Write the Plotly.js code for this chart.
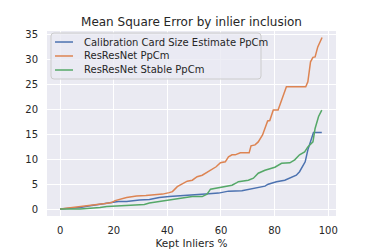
<!DOCTYPE html>
<html>
<head>
<meta charset="utf-8">
<script src="https://cdn.plot.ly/plotly-3.0.1.min.js"></script>
<style>html,body{margin:0;padding:0;background:#fff;}#chart{width:374px;height:249px;}</style>
</head>
<body>
<div id="chart"></div>
<script>
const seriesNames = ["Calibration Card Size Estimate PpCm", "ResResNet PpCm", "ResResNet Stable PpCm"];

const blueX = [0, 5, 7.5, 10.6, 14.9, 19.2, 21.7, 24.8, 27.2, 29.6, 33.3, 37, 40.7, 44.4, 48.1, 54.2, 59.1, 62.8, 67.8, 72.7, 76.4, 77.6, 80.7, 83.8, 86.2, 88.1, 89.3, 91.4, 92.4, 93.6, 94.5, 97.6];
const blueY = [0, 0.1, 0.3, 0.6, 1.0, 1.3, 1.5, 1.5, 1.7, 1.8, 1.9, 2.3, 2.5, 2.6, 2.8, 3.0, 3.2, 3.6, 3.7, 4.2, 4.6, 5.0, 5.5, 5.8, 6.3, 6.8, 7.5, 9.5, 11.9, 13.9, 15.4, 15.4];

const orangeX = [0, 5, 7.5, 13.7, 16.8, 19.2, 20.5, 24.8, 28.5, 32, 35, 38.2, 40.7, 41.9, 43.7, 45.6, 47.4, 49.3, 51.1, 53, 56.1, 58.2, 59.8, 61.6, 62.8, 64.1, 65.3, 67.2, 70.5, 71.2, 72.7, 73.9, 75.5, 77.4, 78.2, 79.5, 81.3, 84.4, 91.6, 92.4, 93.4, 94.3, 95.1, 96.1, 97.7];
const orangeY = [0, 0.3, 0.5, 0.8, 1.1, 1.3, 1.7, 2.3, 2.6, 2.7, 2.8, 3.0, 3.3, 3.5, 4.5, 5.0, 5.6, 5.8, 6.5, 6.8, 7.8, 8.5, 9.3, 9.5, 10.5, 10.9, 10.9, 11.3, 11.3, 12.7, 12.9, 13.5, 14.9, 17.7, 17.8, 19.9, 19.9, 24.6, 24.6, 25.6, 29.6, 30.5, 30.6, 32.6, 34.5];

const greenX = [0, 7.5, 14.9, 17.4, 21.1, 26, 29.6, 31.4, 33.3, 37, 41.9, 45.6, 49.3, 53, 54.8, 56.1, 58.5, 61.6, 64.1, 65.9, 66.5, 70.2, 72.1, 73.9, 76.4, 80.1, 82.6, 85.7, 87.5, 89.3, 91.2, 92.4, 94.3, 95.1, 96.4, 97.6];
const greenY = [0, 0, 0.3, 0.5, 0.6, 0.8, 0.8, 0.9, 1.2, 1.5, 1.8, 2.1, 2.5, 2.5, 3.0, 4.0, 4.2, 4.6, 4.8, 5.3, 5.5, 5.8, 6.2, 7.2, 7.8, 8.4, 9.2, 9.3, 9.9, 10.9, 11.5, 12.5, 13.5, 16.2, 18.6, 19.9];

const xTicks = [0, 20, 40, 60, 80, 100];
const yTicks = [0, 5, 10, 15, 20, 25, 30, 35];

const colors = ["#4C72B0", "#DD8452", "#55A868"];
const xs = [blueX, orangeX, greenX];
const ys = [blueY, orangeY, greenY];

const traces = seriesNames.map((n, i) => ({
  x: xs[i], y: ys[i], name: n, type: "scatter", mode: "lines",
  line: {color: colors[i], width: 1.5}
}));

const font = {family: "DejaVu Sans", color: "#262626"};

// legend drawn in paper coordinates (matplotlib-style compact legend)
const lg = {x0: 0.0138, x1: 0.7405, y0: 0.7405, y1: 0.989, rx: 0.0104, ry: 0.0162};
const boxPath = `M ${lg.x0+lg.rx},${lg.y1} L ${lg.x1-lg.rx},${lg.y1} Q ${lg.x1},${lg.y1} ${lg.x1},${lg.y1-lg.ry} ` +
  `L ${lg.x1},${lg.y0+lg.ry} Q ${lg.x1},${lg.y0} ${lg.x1-lg.rx},${lg.y0} L ${lg.x0+lg.rx},${lg.y0} ` +
  `Q ${lg.x0},${lg.y0} ${lg.x0},${lg.y0+lg.ry} L ${lg.x0},${lg.y1-lg.ry} Q ${lg.x0},${lg.y1} ${lg.x0+lg.rx},${lg.y1} Z`;
const rowY = [0.9405, 0.8649, 0.7892];
const shapes = [{type: "path", xref: "paper", yref: "paper", path: boxPath,
  fillcolor: "rgba(234,234,242,0.8)", line: {color: "#cccccc", width: 1}, layer: "above"}];
const annotations = [];
seriesNames.forEach((n, i) => {
  shapes.push({type: "line", xref: "paper", yref: "paper", x0: 0.0277, x1: 0.09, y0: rowY[i], y1: rowY[i],
    line: {color: colors[i], width: 1.5}, layer: "above"});
  annotations.push({xref: "paper", yref: "paper", x: 0.1211, y: rowY[i], xanchor: "left", yanchor: "middle",
    text: n, showarrow: false, font: Object.assign({size: 10}, font)});
});

const layout = {
  width: 374, height: 249,
  margin: {l: 47, r: 38, t: 31, b: 33},
  paper_bgcolor: "#ffffff", plot_bgcolor: "#EAEAF2",
  font: Object.assign({size: 10}, font),
  title: {text: "Mean Square Error by inlier inclusion", font: Object.assign({size: 12}, font),
    xref: "paper", x: 0.5, xanchor: "center", y: 0.912, yanchor: "middle"},
  xaxis: {
    range: [-4.9, 102.9], tickvals: xTicks, ticktext: xTicks.map(String),
    showgrid: true, gridcolor: "#ffffff", gridwidth: 1, zeroline: false, showline: false,
    ticks: "outside", ticklen: 5, tickcolor: "rgba(0,0,0,0)",
    tickfont: Object.assign({size: 10}, font),
    title: {text: "Kept Inliers %", font: Object.assign({size: 10.5}, font), standoff: 5}
  },
  yaxis: {
    range: [-1.4, 35.8], tickvals: yTicks, ticktext: yTicks.map(String),
    showgrid: true, gridcolor: "#ffffff", gridwidth: 1, zeroline: false, showline: false,
    ticks: "outside", ticklen: 6, tickcolor: "rgba(0,0,0,0)",
    tickfont: Object.assign({size: 10}, font)
  },
  showlegend: false,
  shapes: shapes,
  annotations: annotations
};

Plotly.newPlot("chart", traces, layout, {displayModeBar: false, staticPlot: true});
</script>
</body>
</html>
